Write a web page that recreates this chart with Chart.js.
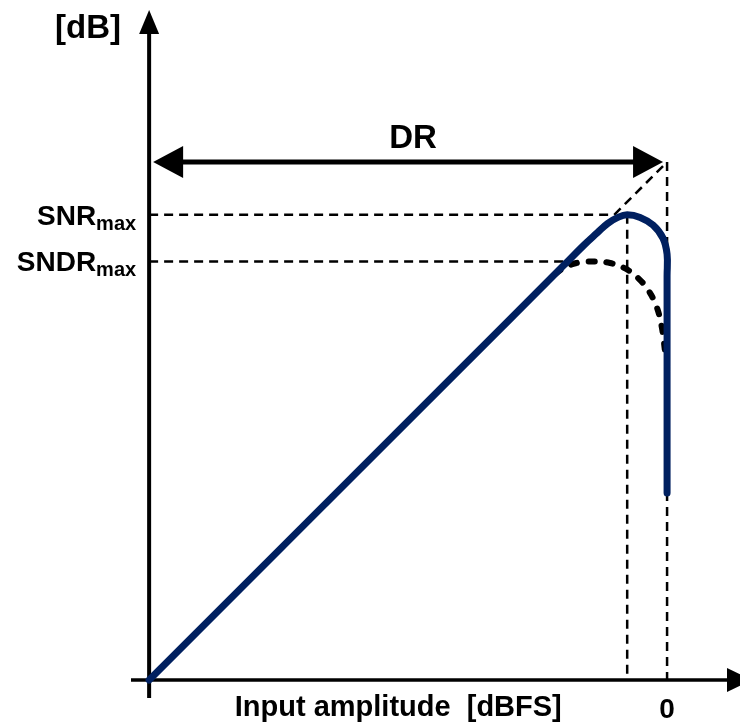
<!DOCTYPE html>
<html><head><meta charset="utf-8">
<script src="https://cdn.jsdelivr.net/npm/chart.js@4.4.0/dist/chart.umd.min.js"></script>
<style>html,body{margin:0;padding:0;background:#fff}canvas{display:block}</style>
</head><body>
<canvas id="c" width="740" height="724"></canvas>
<script>
// ---- Data (x: input amplitude relative to full scale, y: dB) ----
const snrX  = [-100, -40, -20, -16, -13.5, -11.5, -9.5, -7.7, -5.2, -2.7, -0.8, 0, 0, 0];
const snrY  = [0, 60, 80, 84, 86.3, 88.1, 89.3, 89.8, 89.3, 87.8, 85.3, 82.2, 78, 36.1];
const sndrX = [-24, -20.5, -17.5, -14.3, -11, -8, -5.5, -3.6, -2, -1, -0.4];
const sndrY = [76, 79.2, 80.5, 80.8, 80.5, 79.4, 77.5, 75.2, 72, 68, 63.5];
const snrMax = 89.8;
const sndrMax = 80.8;
const peakX = -7.7;
const fullScale = 0;
const drStart = -100;
const drTop = 100;
const xTickLabels = ['0'];
const yLabelNames = ['SNR', 'SNDR'];
const yLabelSub = 'max';
const xTitle = 'Input amplitude  [dBFS]';
const yTitle = '[dB]';
const drLabel = 'DR';

const pts = (xs, ys) => xs.map((v, i) => ({x: v, y: ys[i]}));
const FONT = "'Liberation Sans', Arial, sans-serif";
const BLUE = '#002060';

const refStyle = {borderColor: '#000', borderWidth: 2.5, borderDash: [9, 6], pointRadius: 0, tension: 0, showLine: true, order: 2, fill: false};

const deco = {
  id: 'deco',
  beforeDatasetsDraw(chart) {
    const {ctx, chartArea: a, scales: {x, y}} = chart;
    const ox = x.getPixelForValue(drStart), oy = y.getPixelForValue(0);
    ctx.save();
    ctx.strokeStyle = '#000'; ctx.fillStyle = '#000';
    // y axis
    ctx.lineWidth = 4;
    ctx.beginPath(); ctx.moveTo(ox, a.bottom); ctx.lineTo(ox, a.top + 20); ctx.stroke();
    ctx.beginPath(); ctx.moveTo(ox, a.top); ctx.lineTo(ox - 10, a.top + 24); ctx.lineTo(ox + 10, a.top + 24); ctx.closePath(); ctx.fill();
    // x axis
    ctx.lineWidth = 3.5;
    ctx.beginPath(); ctx.moveTo(a.left, oy); ctx.lineTo(chart.width - 10, oy); ctx.stroke();
    ctx.beginPath(); ctx.moveTo(chart.width + 12, oy); ctx.lineTo(chart.width - 13, oy - 12); ctx.lineTo(chart.width - 13, oy + 12); ctx.closePath(); ctx.fill();
    ctx.restore();
  },
  afterDraw(chart) {
    const {ctx, scales: {x, y}} = chart;
    ctx.save();
    ctx.strokeStyle = '#000'; ctx.fillStyle = '#000';
    // DR double arrow
    const yDR = y.getPixelForValue(drTop);
    const xl = x.getPixelForValue(drStart) + 4, xr = x.getPixelForValue(fullScale) - 4;
    const hl = 30, hh = 16;
    ctx.lineWidth = 5;
    ctx.beginPath(); ctx.moveTo(xl + hl - 2, yDR); ctx.lineTo(xr - hl + 2, yDR); ctx.stroke();
    ctx.beginPath(); ctx.moveTo(xl, yDR); ctx.lineTo(xl + hl, yDR - hh); ctx.lineTo(xl + hl, yDR + hh); ctx.closePath(); ctx.fill();
    ctx.beginPath(); ctx.moveTo(xr, yDR); ctx.lineTo(xr - hl, yDR - hh); ctx.lineTo(xr - hl, yDR + hh); ctx.closePath(); ctx.fill();
    // DR label
    ctx.textAlign = 'center'; ctx.textBaseline = 'alphabetic';
    ctx.font = 'bold 33px ' + FONT;
    ctx.fillText(drLabel, (xl + xr) / 2 + 5, yDR - 14);
    // y title
    ctx.fillText(yTitle, 88, 38);
    // x title and tick
    const oy = y.getPixelForValue(0);
    ctx.font = 'bold 29px ' + FONT;
    ctx.fillText(xTitle, x.getPixelForValue(-51.9), oy + 36);
    ctx.font = 'bold 28px ' + FONT;
    ctx.fillText(xTickLabels[0], x.getPixelForValue(fullScale), oy + 38);
    // SNRmax / SNDRmax labels
    const ox = x.getPixelForValue(drStart);
    [snrMax, sndrMax].forEach((v, i) => {
      const py = y.getPixelForValue(v);
      const right = ox - 13;
      ctx.textAlign = 'right';
      ctx.font = 'bold 20px ' + FONT;
      const w = ctx.measureText(yLabelSub).width;
      ctx.fillText(yLabelSub, right, py + 15);
      ctx.font = 'bold 28px ' + FONT;
      ctx.fillText(yLabelNames[i], right - w, py + 10);
    });
    ctx.restore();
  }
};

new Chart(document.getElementById('c'), {
  type: 'scatter',
  data: {
    datasets: [
      {data: pts(snrX, snrY), showLine: true, borderColor: BLUE, borderWidth: 7, borderCapStyle: 'round', borderJoinStyle: 'round', pointRadius: 0, tension: 0.4, order: 0},
      {data: pts(sndrX, sndrY), showLine: true, borderColor: '#000', borderWidth: 6, borderDash: [6, 12], borderCapStyle: 'round', pointRadius: 0, tension: 0.4, order: 1},
      Object.assign({data: [{x: drStart, y: snrMax}, {x: snrMax - drTop, y: snrMax}]}, refStyle),
      Object.assign({data: [{x: drStart, y: sndrMax}, {x: sndrMax - drTop, y: sndrMax}]}, refStyle),
      Object.assign({data: [{x: snrMax - drTop, y: snrMax}, {x: fullScale, y: drTop}]}, refStyle),
      Object.assign({data: [{x: fullScale, y: drTop}, {x: fullScale, y: 0}]}, refStyle),
      Object.assign({data: [{x: peakX, y: snrMax}, {x: peakX, y: 0}]}, refStyle)
    ]
  },
  options: {
    responsive: false,
    devicePixelRatio: 1,
    animation: false,
    events: [],
    layout: {padding: {left: 131, right: 3, top: 10, bottom: 26}},
    plugins: {legend: {display: false}, tooltip: {enabled: false}},
    scales: {
      x: {type: 'linear', min: -103.5, max: 13.5, display: false},
      y: {type: 'linear', min: -3.47, max: 129.34, display: false}
    }
  },
  plugins: [deco]
});
</script>
</body></html>
